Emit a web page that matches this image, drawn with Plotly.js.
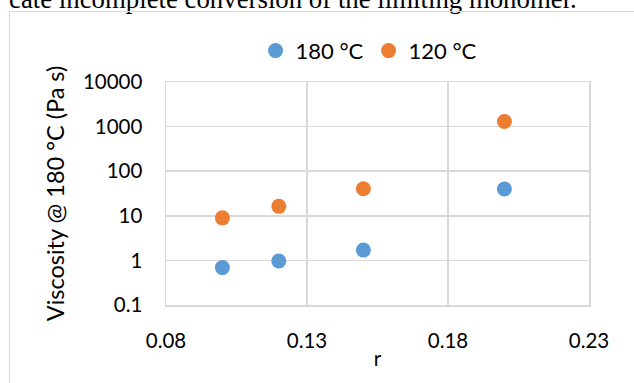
<!DOCTYPE html>
<html>
<head>
<meta charset="utf-8">
<script src="https://cdn.plot.ly/plotly-3.0.1.min.js"></script>
<style>
  html, body { margin: 0; padding: 0; width: 634px; height: 383px; overflow: hidden; background: #fff; }
  #caption { position: absolute; left: 9px; top: -14px; font-family: "Liberation Serif", "Times New Roman", serif; font-size: 26.8px; color: #000; white-space: nowrap; line-height: 1; }
  #frame { position: absolute; left: 9px; top: 11px; width: 700px; height: 500px; border: 1px solid #d9d9d9; }
  #chart { position: absolute; left: 0; top: 0; width: 634px; height: 383px; }
</style>
</head>
<body>
<div id="caption">cate incomplete conversion of the limiting monomer.</div>
<div id="frame"></div>
<div id="chart"></div>
<script>
const seriesNames = ["180 °C", "120 °C"];
const rValues = [0.10, 0.12, 0.15, 0.20];
const visc180 = [0.69, 0.97, 1.7, 40];
const visc120 = [9.0, 16.3, 40.5, 1300];
const xTickVals = [0.08, 0.13, 0.18, 0.23];
const xTickText = ["0.08", "0.13", "0.18", "0.23"];
const yTickVals = [0.1, 1, 10, 100, 1000, 10000];
const yTickText = ["0.1", "1", "10", "100", "1000", "10000"];
const xTitle = "r";
const yTitle = "Viscosity @ 180 °C (Pa s)";

const fam = "Lato, 'Open Sans', sans-serif";
const font = { family: fam, size: 20.5, color: "#000" };
const legFont = { family: fam, size: 22, color: "#000" };
const titleFont = { family: fam, size: 23.5, color: "#000" };
const grid = "#d9d9d9";

const traces = [
  { type: "scatter", mode: "markers", name: seriesNames[0], x: rValues, y: visc180,
    marker: { color: "#5B9BD5", size: 15 } },
  { type: "scatter", mode: "markers", name: seriesNames[1], x: rValues, y: visc120,
    marker: { color: "#ED7D31", size: 15 } }
];

const layout = {
  width: 634, height: 383,
  margin: { l: 166, r: 45, t: 82, b: 78 },
  paper_bgcolor: "rgba(0,0,0,0)",
  plot_bgcolor: "#fff",
  font: font,
  showlegend: true,
  legend: { orientation: "h", x: 0.48, xanchor: "center", y: 1.14, yanchor: "middle",
            font: legFont, itemwidth: 30, tracegroupgap: 0, bgcolor: "rgba(0,0,0,0)" },
  xaxis: {
    range: [0.08, 0.23], tickvals: xTickVals, ticktext: xTickText,
    showgrid: true, gridcolor: grid, gridwidth: 1.5,
    showline: true, linecolor: grid, linewidth: 1.5, mirror: true,
    zeroline: false, ticks: "", ticklabelstandoff: 17,
    tickfont: font,
    title: { text: xTitle, font: font, standoff: 0 }
  },
  yaxis: {
    type: "log", range: [-1, 4], tickvals: yTickVals, ticktext: yTickText,
    showgrid: true, gridcolor: grid, gridwidth: 1.5,
    showline: true, linecolor: grid, linewidth: 1.5, mirror: true,
    zeroline: false, ticks: "", ticklabelstandoff: 18,
    tickfont: font,
    title: { text: yTitle, font: titleFont, standoff: 11 }
  }
};

Plotly.newPlot("chart", traces, layout, { displayModeBar: false, staticPlot: true });
</script>
</body>
</html>
